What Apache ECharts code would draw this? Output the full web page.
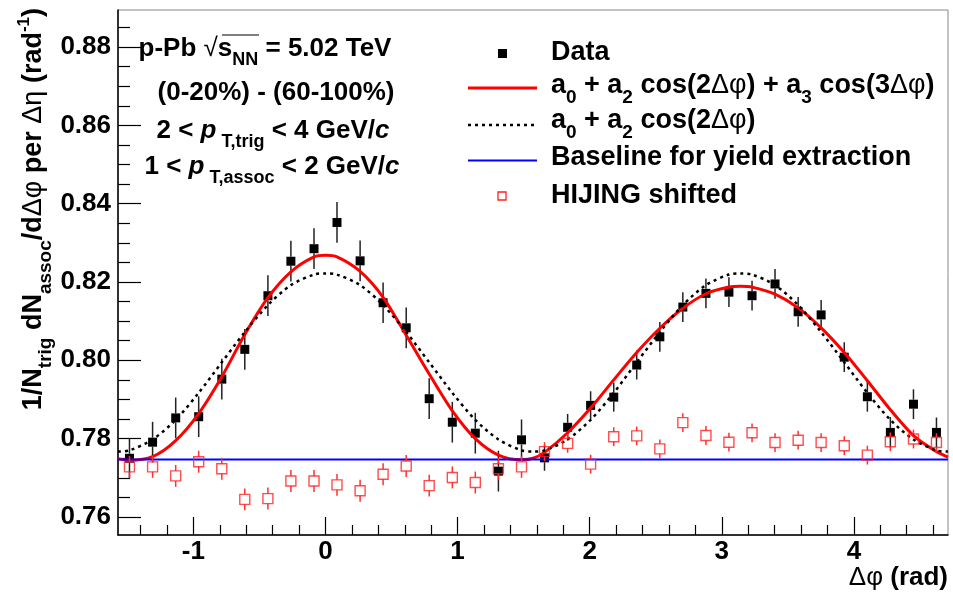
<!DOCTYPE html>
<html>
<head>
<meta charset="utf-8">
<script src="https://cdn.jsdelivr.net/npm/echarts@6/dist/echarts.min.js"></script>
<style>
  html, body { margin: 0; padding: 0; background: #fff; }
  #chart { width: 953px; height: 595px; }
</style>
</head>
<body>
<div id="chart"></div>
<script>
// bin centres in delta-phi (rad)
const phi = [-1.484, -1.309, -1.134, -0.960, -0.785, -0.611, -0.436, -0.262, -0.087,
  0.087, 0.262, 0.436, 0.611, 0.785, 0.960, 1.134, 1.309, 1.484,
  1.658, 1.833, 2.007, 2.182, 2.356, 2.531, 2.705, 2.880, 3.054,
  3.229, 3.403, 3.578, 3.752, 3.927, 4.102, 4.276, 4.451, 4.625];

const dataY = [0.7750, 0.7791, 0.7853, 0.7856, 0.7952, 0.8028, 0.8165, 0.8253, 0.8285,
  0.8352, 0.8254, 0.8147, 0.8083, 0.7902, 0.7842, 0.7814, 0.7717, 0.7797,
  0.7751, 0.7829, 0.7885, 0.7906, 0.7988, 0.8060, 0.8136, 0.8171, 0.8174,
  0.8165, 0.8195, 0.8124, 0.8116, 0.8008, 0.7907, 0.7816, 0.7888, 0.7816];
const dataErr = [0.0052, 0.0052, 0.0052, 0.0052, 0.0052, 0.0052, 0.0052, 0.0052, 0.0052,
  0.0052, 0.0052, 0.0052, 0.0052, 0.0052, 0.0052, 0.0052, 0.0052, 0.0052,
  0.0033, 0.0034, 0.0036, 0.0037, 0.0037, 0.0038, 0.0038, 0.0038, 0.0038,
  0.0038, 0.0038, 0.0038, 0.0038, 0.0038, 0.0038, 0.0039, 0.0038, 0.0038];

const hijingY = [0.7728, 0.7728, 0.7705, 0.7741, 0.7723, 0.7645, 0.7647, 0.7692, 0.7692,
  0.7682, 0.7667, 0.7709, 0.7730, 0.7680, 0.7701, 0.7688, 0.7723, 0.7728,
  0.7767, 0.7788, 0.7735, 0.7805, 0.7807, 0.7774, 0.7841, 0.7808, 0.7791,
  0.7815, 0.7790, 0.7796, 0.7790, 0.7782, 0.7758, 0.7792, 0.7799, 0.7790];
const hijingErr = [0.0028, 0.0028, 0.0028, 0.0028, 0.0028, 0.0028, 0.0028, 0.0028, 0.0028,
  0.0028, 0.0028, 0.0028, 0.0028, 0.0028, 0.0028, 0.0028, 0.0028, 0.0028,
  0.0024, 0.0024, 0.0024, 0.0024, 0.0024, 0.0024, 0.0024, 0.0024, 0.0024,
  0.0024, 0.0024, 0.0024, 0.0024, 0.0024, 0.0024, 0.0024, 0.0024, 0.0024];

// fit curves at the range edges, bin centres and the extrema
const fitX = [-1.571, -1.484, -1.309, -1.134, -0.960, -0.785, -0.611, -0.436, -0.262, -0.087, 0,
  0.087, 0.262, 0.436, 0.611, 0.785, 0.960, 1.134, 1.309, 1.484, 1.571,
  1.658, 1.833, 2.007, 2.182, 2.356, 2.531, 2.705, 2.880, 3.054, 3.142,
  3.229, 3.403, 3.578, 3.752, 3.927, 4.102, 4.276, 4.451, 4.625, 4.712];
const fitA2A3 = [0.7749, 0.7745, 0.7754, 0.7795, 0.7864, 0.7958, 0.8066, 0.8160, 0.8226, 0.8264, 0.8268,
  0.8264, 0.8227, 0.8161, 0.8064, 0.7965, 0.7871, 0.7800, 0.7758, 0.7746, 0.7750,
  0.7765, 0.7815, 0.7878, 0.7950, 0.8020, 0.8082, 0.8133, 0.8170, 0.8187, 0.8189,
  0.8187, 0.8169, 0.8134, 0.8083, 0.8020, 0.7948, 0.7874, 0.7808, 0.7767, 0.7753];
const fitA2 = [0.7767, 0.7770, 0.7798, 0.7848, 0.7917, 0.7995, 0.8072, 0.8141, 0.8192, 0.8219, 0.8222,
  0.8219, 0.8192, 0.8141, 0.8072, 0.7995, 0.7917, 0.7848, 0.7798, 0.7770, 0.7767,
  0.7770, 0.7798, 0.7848, 0.7917, 0.7995, 0.8072, 0.8141, 0.8192, 0.8219, 0.8222,
  0.8219, 0.8192, 0.8141, 0.8072, 0.7995, 0.7917, 0.7848, 0.7798, 0.7770, 0.7767];
const baselineX = [-1.571, 4.712];
const baselineY = [0.7747, 0.7747];

const xMajor = [-1, 0, 1, 2, 3, 4];
const xMinor = [-1.4, -1.2, -0.8, -0.6, -0.4, -0.2, 0.2, 0.4, 0.6, 0.8, 1.2, 1.4, 1.6, 1.8,
  2.2, 2.4, 2.6, 2.8, 3.2, 3.4, 3.6, 3.8, 4.2, 4.4, 4.6];
const yMajor = [0.76, 0.78, 0.80, 0.82, 0.84, 0.86, 0.88];
const yMinor = [0.765, 0.77, 0.775, 0.785, 0.79, 0.795, 0.805, 0.81, 0.815, 0.825, 0.83, 0.835,
  0.845, 0.85, 0.855, 0.865, 0.87, 0.875, 0.885];

const FONT = 'Liberation Sans, Arial, Helvetica, sans-serif';

function makeRich(size) {
    const sub = Math.round(size * 0.69);
    return {
        b: { fontFamily: FONT, fontWeight: 'bold', fontSize: size, lineHeight: size + 4, fill: '#000' },
        bi: { fontFamily: FONT, fontWeight: 'bold', fontStyle: 'italic', fontSize: size, lineHeight: size + 4, fill: '#000' },
        r: { fontFamily: FONT, fontWeight: 'normal', fontSize: size, lineHeight: size + 4, fill: '#000' },
        s: { fontFamily: FONT, fontWeight: 'bold', fontSize: sub, lineHeight: sub, padding: [size - 4, 0, 0, 0], fill: '#000' },
        sup: { fontFamily: FONT, fontWeight: 'bold', fontSize: sub - 2, lineHeight: sub - 2, padding: [0, 0, size - 8, 0], fill: '#000' }
    };
}
const rich26 = makeRich(26);
const rich27 = makeRich(27);

function txt(x, y, text, align, rich, rotation) {
    return {
        type: 'text', x: x, y: y, rotation: rotation || 0,
        style: { text: text, rich: rich, align: align, textAlign: align, verticalAlign: 'middle', textVerticalAlign: 'middle', fill: '#000' }
    };
}

function errorBars(color, gap) {
    return function (params, api) {
        const x = api.value(0), y = api.value(1), e = api.value(2);
        const top = api.coord([x, y + e]);
        const mid = api.coord([x, y]);
        const bot = api.coord([x, y - e]);
        const style = { stroke: color, lineWidth: 1.5 };
        return {
            type: 'group',
            children: [
                { type: 'line', shape: { x1: mid[0], y1: top[1], x2: mid[0], y2: mid[1] - gap }, style: style },
                { type: 'line', shape: { x1: mid[0], y1: mid[1] + gap, x2: mid[0], y2: bot[1] }, style: style }
            ]
        };
    };
}

const chart = echarts.init(document.getElementById('chart'), null, { renderer: 'canvas' });

const xBase = { type: 'value', min: -1.5708, max: 4.7124, splitLine: { show: false } };
const yBase = { type: 'value', min: 0.7554, max: 0.88945, splitLine: { show: false } };

const option = {
    backgroundColor: '#fff',
    animation: false,
    grid: { left: 118, right: 5, top: 10, bottom: 60, show: true, borderColor: '#888', borderWidth: 1 },
    xAxis: [
        Object.assign({}, xBase, {
            position: 'bottom',
            axisLine: { show: true, onZero: false, lineStyle: { color: '#000', width: 1.5 } },
            axisTick: { show: true, inside: true, length: 18, customValues: xMajor, lineStyle: { color: '#000', width: 1.2 } },
            axisLabel: {
                customValues: xMajor, margin: 4, color: '#000', fontFamily: FONT, fontWeight: 'bold', fontSize: 26,
                formatter: v => String(v)
            }
        }),
        Object.assign({}, xBase, {
            position: 'bottom',
            axisLine: { show: false, onZero: false },
            axisTick: { show: true, inside: true, length: 10, customValues: xMinor, lineStyle: { color: '#000', width: 1.2 } },
            axisLabel: { show: false }
        })
    ],
    yAxis: [
        Object.assign({}, yBase, {
            position: 'left',
            axisLine: { show: true, onZero: false, lineStyle: { color: '#000', width: 1.5 } },
            axisTick: { show: true, inside: true, length: 23, customValues: yMajor, lineStyle: { color: '#000', width: 1.2 } },
            axisLabel: {
                customValues: yMajor, margin: 7, color: '#000', fontFamily: FONT, fontWeight: 'bold', fontSize: 26,
                formatter: v => v.toFixed(2)
            }
        }),
        Object.assign({}, yBase, {
            position: 'left',
            axisLine: { show: false, onZero: false },
            axisTick: { show: true, inside: true, length: 12, customValues: yMinor, lineStyle: { color: '#000', width: 1.2 } },
            axisLabel: { show: false }
        })
    ],
    series: [
        {
            name: 'Data errors', type: 'custom', renderItem: errorBars('#222', 4.5),
            data: phi.map((x, i) => [x, dataY[i], dataErr[i]]), z: 3
        },
        {
            name: 'Data', type: 'scatter', symbol: 'rect', symbolSize: 9,
            itemStyle: { color: '#000', opacity: 1 },
            data: phi.map((x, i) => [x, dataY[i]]), z: 3
        },
        {
            name: 'a0 + a2 cos(2Δφ) + a3 cos(3Δφ)', type: 'line', smooth: 0.3, symbol: 'none',
            lineStyle: { color: '#ff0000', width: 3 },
            data: fitX.map((x, i) => [x, fitA2A3[i]]), z: 4
        },
        {
            name: 'a0 + a2 cos(2Δφ)', type: 'line', smooth: 0.3, symbol: 'none',
            lineStyle: { color: '#000', width: 2.5, type: [3, 4] },
            data: fitX.map((x, i) => [x, fitA2[i]]), z: 4
        },
        {
            name: 'Baseline for yield extraction', type: 'line', symbol: 'none',
            lineStyle: { color: '#0000ff', width: 2 },
            data: baselineX.map((x, i) => [x, baselineY[i]]), z: 4
        },
        {
            name: 'HIJING errors', type: 'custom', renderItem: errorBars('#ff3030', 5),
            data: phi.map((x, i) => [x, hijingY[i], hijingErr[i]]), z: 5
        },
        {
            name: 'HIJING shifted', type: 'scatter', symbol: 'rect', symbolSize: 10,
            itemStyle: { color: 'rgba(255,255,255,0)', borderColor: '#ff2020', borderWidth: 1.4 },
            data: phi.map((x, i) => [x, hijingY[i]]), z: 5
        }
    ],
    graphic: [
        // axis titles
        txt(34, 8, '{b|1/N}{s|trig}{b| dN}{s|assoc}{b|/d}{r|Δφ}{b| per }{r|Δη}{b| (rad}{sup|-1}{b|)}', 'right', rich27, Math.PI / 2),
        txt(948, 578, '{r|Δφ}{b| (rad)}', 'right', rich26),
        // annotation
        txt(265, 49, '{b|p-Pb }{r|√}{b|s}{s|NN}{b| = 5.02 TeV}', 'center', rich26),
        { type: 'line', shape: { x1: 222, y1: 35, x2: 259, y2: 35 }, style: { stroke: '#000', lineWidth: 1.2 } },
        txt(276, 93, '{b|(0-20%) - (60-100%)}', 'center', rich26),
        txt(273, 131, '{b|2 < }{bi|p}{s| T,trig}{b| < 4 GeV/}{bi|c}', 'center', rich26),
        txt(272, 167, '{b|1 < }{bi|p}{s| T,assoc}{b| < 2 GeV/}{bi|c}', 'center', rich26),
        // legend
        { type: 'rect', shape: { x: 498, y: 49, width: 9, height: 9 }, style: { fill: '#000' } },
        txt(551, 53, '{b|Data}', 'left', rich27),
        { type: 'line', shape: { x1: 468, y1: 88, x2: 537, y2: 88 }, style: { stroke: '#ff0000', lineWidth: 3 } },
        txt(551, 86, '{b|a}{s|0}{b| + a}{s|2}{b| cos(2}{r|Δφ}{b|) + a}{s|3}{b| cos(3}{r|Δφ}{b|)}', 'left', rich27),
        { type: 'line', shape: { x1: 468, y1: 125, x2: 537, y2: 125 }, style: { stroke: '#000', lineWidth: 2.5, lineDash: [3, 4] } },
        txt(551, 121, '{b|a}{s|0}{b| + a}{s|2}{b| cos(2}{r|Δφ}{b|)}', 'left', rich27),
        { type: 'line', shape: { x1: 468, y1: 160.5, x2: 537, y2: 160.5 }, style: { stroke: '#0000ff', lineWidth: 2 } },
        txt(551, 158, '{b|Baseline for yield extraction}', 'left', rich27),
        { type: 'rect', shape: { x: 498, y: 192, width: 8, height: 8 }, style: { fill: 'none', stroke: '#ff2020', lineWidth: 1.3 } },
        txt(551, 196, '{b|HIJING shifted}', 'left', rich27)
    ]
};

chart.setOption(option);
window.addEventListener('resize', () => chart.resize());
</script>
</body>
</html>
